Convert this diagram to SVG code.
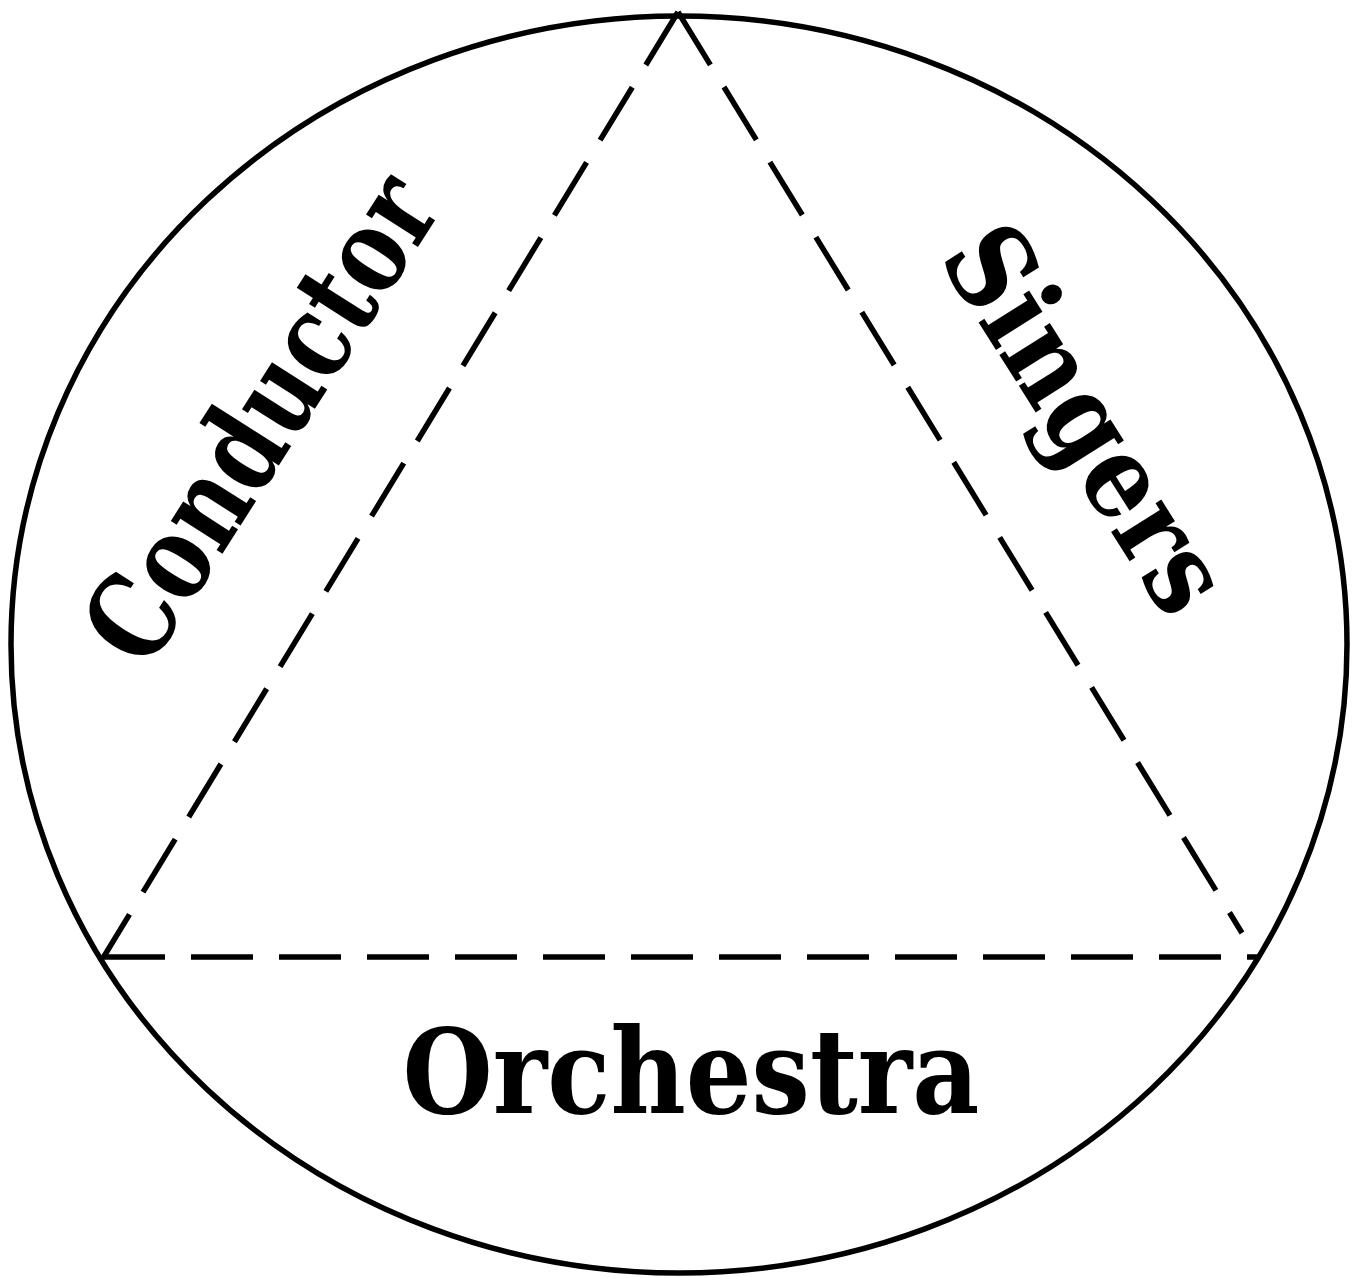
<svg xmlns="http://www.w3.org/2000/svg" width="1359" height="1278" viewBox="0 0 1359 1278">
<style>
.outline{fill:none;stroke:#000;stroke-width:5.5}
.dash{fill:none;stroke:#000;stroke-width:5.5;stroke-dasharray:62 26}
.lbl{font-family:"DejaVu Serif","Liberation Serif",serif;font-weight:bold;fill:#000;text-anchor:middle}
</style>
<rect width="1359" height="1278" fill="#fff"/>
<g id="circle">
<ellipse class="outline" cx="679" cy="644.5" rx="668" ry="628.5"/>
</g>
<g id="connectors">
<line class="dash" x1="678" y1="12" x2="103" y2="958"/>
<line class="dash" x1="678" y1="12" x2="1242" y2="933"/>
<line class="dash" x1="103" y1="957" x2="1258" y2="957"/>
</g>
<g id="conductor">
<text class="lbl" x="295" y="440" font-size="118" textLength="550" lengthAdjust="spacingAndGlyphs" transform="rotate(-57.5 295 440)">Conductor</text>
</g>
<g id="singers">
<text class="lbl" x="1053" y="440" font-size="115" textLength="432" lengthAdjust="spacingAndGlyphs" transform="rotate(57.7 1053 440)">Singers</text>
</g>
<g id="orchestra">
<text class="lbl" x="691" y="1113" font-size="118" textLength="577" lengthAdjust="spacingAndGlyphs">Orchestra</text>
</g>
</svg>
